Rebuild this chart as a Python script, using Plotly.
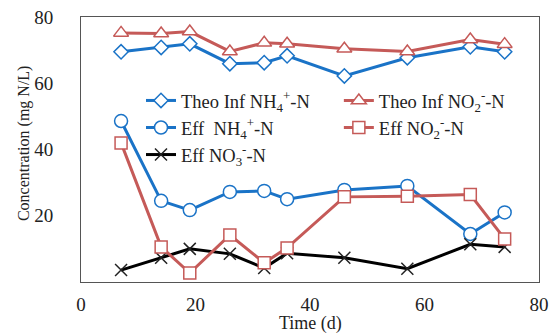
import plotly.graph_objects as go

days = [7, 14, 19, 26, 32, 36, 46, 57, 68, 74]
theo_nh4 = [69.5, 70.8, 71.9, 65.9, 66.2, 68.3, 62.2, 67.7, 71.0, 69.5]
theo_no2 = [75.2, 75.0, 75.6, 69.6, 72.2, 71.9, 70.4, 69.6, 73.2, 71.8]
eff_nh4 = [48.6, 24.5, 21.7, 27.2, 27.5, 25.0, 27.8, 29.0, 14.5, 21.0]
eff_no2 = [42.0, 10.6, 2.7, 14.2, 5.8, 10.3, 25.7, 25.9, 26.4, 13.0]
eff_no3 = [3.6, 7.3, 10.0, 8.5, 4.2, 8.7, 7.3, 4.0, 11.4, 10.6]

BLUE = "#1a73c7"
RED = "#c55a58"
FONT = "Liberation Serif"

fig = go.Figure()

def add(y, name, color, symbol, size, legend, lw=3):
    fig.add_trace(go.Scatter(
        x=days, y=y, name=name, mode="lines+markers",
        line=dict(color=color, width=lw),
        marker=dict(symbol=symbol, size=size, color="white",
                    line=dict(color=color, width=1.5)),
        legend=legend,
    ))

add(theo_nh4, "Theo Inf NH<sub>4</sub><sup>+</sup>-N", BLUE, "diamond", 11, "legend")
add(eff_nh4, "Eff  NH<sub>4</sub><sup>+</sup>-N", BLUE, "circle", 13, "legend")
fig.add_trace(go.Scatter(
    x=days, y=eff_no3, name="Eff NO<sub>3</sub><sup>-</sup>-N", mode="lines+markers",
    line=dict(color="black", width=3),
    marker=dict(symbol="x-thin", size=12, color="black",
                line=dict(color="#222", width=1.5)),
    legend="legend",
))
add(theo_no2, "Theo Inf NO<sub>2</sub><sup>-</sup>-N", RED, "triangle-up", 13, "legend2")
add(eff_no2, "Eff NO<sub>2</sub><sup>-</sup>-N", RED, "square", 12, "legend2")

fig.update_layout(
    width=549, height=333,
    margin=dict(l=81, r=10, t=17, b=51),
    paper_bgcolor="white", plot_bgcolor="white",
    font=dict(family=FONT, size=18, color="#222"),
    legend=dict(x=0.131, y=0.755, xanchor="left", yanchor="top",
                bgcolor="rgba(0,0,0,0)", font=dict(family=FONT, size=18.5),
                tracegroupgap=0, itemwidth=30),
    legend2=dict(x=0.563, y=0.755, xanchor="left", yanchor="top",
                 bgcolor="rgba(0,0,0,0)", font=dict(family=FONT, size=18.5),
                 tracegroupgap=0, itemwidth=30),
    annotations=[
        dict(text="Time (d)", x=0.5, y=-0.155, xref="paper", yref="paper",
             xanchor="center", yanchor="middle", showarrow=False,
             font=dict(family=FONT, size=18)),
        dict(text="Concentration (mg N/L)", x=-0.124, y=0.525, xref="paper", yref="paper",
             xanchor="center", yanchor="middle", showarrow=False, textangle=-90,
             font=dict(family=FONT, size=16)),
    ],
)
fig.update_xaxes(
    range=[0, 80], tickvals=[0, 20, 40, 60, 80], showgrid=False, zeroline=False,
    showline=True, linecolor="#555", linewidth=1, mirror=True,
    ticks="", ticklabelstandoff=5, automargin=False,
    tickfont=dict(family=FONT, size=19),
)
fig.update_yaxes(
    range=[0, 80], tickvals=[20, 40, 60, 80], showgrid=False, zeroline=False,
    showline=True, linecolor="#555", linewidth=1, mirror=True,
    ticks="", ticklabelstandoff=23, automargin=False,
    tickfont=dict(family=FONT, size=19),
)

fig.write_html("out.html", config={"displayModeBar": False},
               post_script="document.body.style.margin='0';")
